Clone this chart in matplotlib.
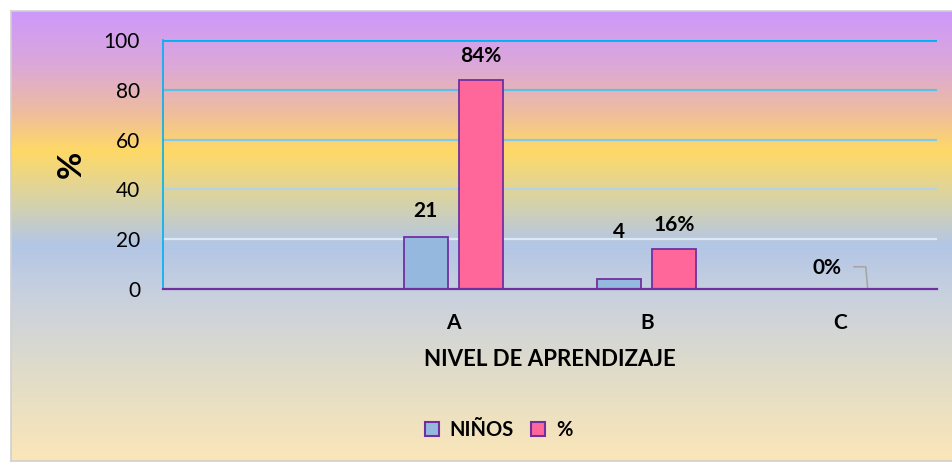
import numpy as np
import matplotlib
matplotlib.use('Agg')
import matplotlib.pyplot as plt
from matplotlib.colors import LinearSegmentedColormap
from matplotlib.lines import Line2D

categories = ['', 'A', 'B', 'C']
ninos = [0, 21, 4, 0]
pct = [0, 84, 16, 0]
ninos_labels = ['', '21', '4', '']
pct_labels = ['', '84%', '16%', '0%']
yticks = [0, 20, 40, 60, 80, 100]

plt.rcParams['font.family'] = ['Lato', 'DejaVu Sans']

fig = plt.figure(figsize=(9.53, 4.63), dpi=100)

# gradient background of the chart area
bg = fig.add_axes([11/953, 2/463, 942/953, 450/463], zorder=-1)
stops = [(0.0, '#cc99fb'), (0.12, '#dca8d8'), (0.22, '#edbca0'),
         (0.31, '#ffd966'), (0.42, '#d8d3a6'), (0.52, '#b3c6e6'),
         (0.66, '#cdd3dc'), (0.82, '#e2ddc8'), (1.0, '#fbe6b8')]
cmap = LinearSegmentedColormap.from_list('bg', stops)
bg.imshow(np.linspace(0, 1, 256)[:, None], aspect='auto', cmap=cmap,
          extent=[0, 1, 0, 1])
bg.set_xticks([]); bg.set_yticks([])
for s in bg.spines.values():
    s.set_color('#d0d0d0'); s.set_linewidth(1.2)

ax = fig.add_axes([163/953, 1 - 289/463, 774/953, 249/463])
ax.patch.set_alpha(0)
x = np.arange(len(categories))
w = 0.227
off = 0.142
ax.bar(x - off, ninos, w, color='#95b8df', edgecolor='#7030a0', linewidth=1.3, zorder=3)
ax.bar(x + off, pct, w, color='#ff6699', edgecolor='#7030a0', linewidth=1.3, zorder=3)

grid_cols = ['#00b0f0', '#5cc0e6', '#7fcae6', '#b5d3e0', '#dde8f4']
for v, c in zip([100, 80, 60, 40, 20], grid_cols):
    ax.axhline(v, color=c, lw=2 if v == 100 else 1.6, zorder=1)

ax.set_xlim(-0.5, 3.5)
ax.set_ylim(0, 100)
ax.set_yticks(yticks)
ax.set_yticklabels([str(t) for t in yticks], fontsize=15)
ax.set_xticks(x)
ax.set_xticklabels(categories, fontsize=15, fontweight='bold')
ax.tick_params(axis='both', length=0)
ax.tick_params(axis='y', pad=16.5)
ax.tick_params(axis='x', pad=17)
for s in ['top', 'right']:
    ax.spines[s].set_visible(False)
ax.spines['left'].set_color('#00b0f0')
ax.spines['left'].set_linewidth(1.2)
ax.spines['bottom'].set_color('#7030a0')
ax.spines['bottom'].set_linewidth(1.6)
ax.spines['bottom'].set_zorder(4)

ax.set_ylabel('%', fontsize=24, fontweight='bold', labelpad=13)
ax.set_xlabel('NIVEL DE APRENDIZAJE', fontsize=16, fontweight='bold', labelpad=12)

# data labels
lab = dict(textcoords='offset points', ha='center', va='center', fontsize=15, fontweight='bold')
ax.annotate(ninos_labels[1], (x[1] - off, ninos[1]), xytext=(0, 18.5), **lab)
ax.annotate(pct_labels[1], (x[1] + off, pct[1]), xytext=(0, 17), **lab)
ax.annotate(ninos_labels[2], (x[2] - off, ninos[2]), xytext=(0, 34), **lab)
ax.annotate(pct_labels[2], (x[2] + off, pct[2]), xytext=(0, 17.3), **lab)
ax.annotate(pct_labels[3], (x[3] + off, pct[3]), xytext=(-29.5, 15), **lab)
# leader line for the 0% label
ax.annotate('', (x[3] + off, pct[3]), xytext=(-10, 16), textcoords='offset points',
            arrowprops=dict(arrowstyle='-', color='#a6a6a6', lw=1.2, shrinkA=0, shrinkB=0,
                            connectionstyle='angle,angleA=0,angleB=95,rad=0'))

handles = [Line2D([], [], marker='s', ls='', markersize=10, markerfacecolor='#95b8df',
                  markeredgecolor='#7030a0', markeredgewidth=1.5),
           Line2D([], [], marker='s', ls='', markersize=10, markerfacecolor='#ff6699',
                  markeredgecolor='#7030a0', markeredgewidth=1.5)]
fig.legend(handles, ['NIÑOS', '%'], loc='center', bbox_to_anchor=(492/953, 1 - 430/463),
           ncol=2, frameon=False, handletextpad=-0.1, columnspacing=0.2,
           prop={'weight': 'bold', 'size': 14.5})

fig.savefig('out.png', dpi=100)
